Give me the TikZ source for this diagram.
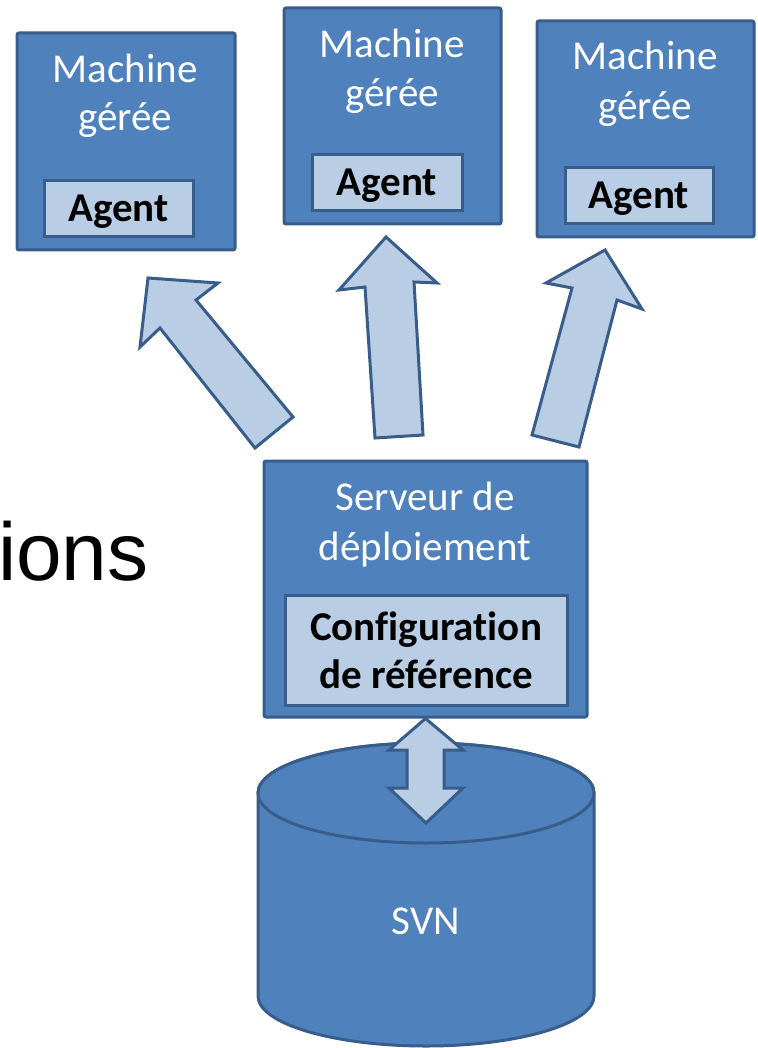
\documentclass[tikz,border=0pt]{standalone}
\usepackage{fontspec}
\setmainfont{Carlito}[Ligatures=CommonOff]
\newfontfamily\arialfont{Liberation Sans}
\definecolor{boxfill}{HTML}{4F81BD}
\definecolor{boxline}{HTML}{385D8A}
\definecolor{innerfill}{HTML}{B9CDE5}
\begin{document}
\begin{tikzpicture}[x=1pt,y=-1pt,
  outerbox/.style={draw=boxline, fill=boxfill, line width=3pt, rounded corners=2pt, inner sep=0pt},
  innerbox/.style={draw=boxline, fill=innerfill, line width=3pt, inner sep=0pt},
  wtext/.style={text=white, font=\fontsize{41}{49}\selectfont, anchor=base, inner sep=0pt},
  btext/.style={text=black, font=\bfseries\fontsize{41}{49}\selectfont, anchor=base, inner sep=0pt},
  blockarrow/.style={draw=boxline, fill=innerfill, line width=3pt, line join=miter},
  cyl/.style={draw=boxline, fill=boxfill, line width=3pt}]
\useasboundingbox (0,0) rectangle (757,1048);

% cut-off title text
\node[anchor=base west, inner sep=0pt, font=\arialfont\fontsize{82}{82}\selectfont] (title) at (-2,580) {ions};

% managed machines
\node[outerbox, minimum width=218pt, minimum height=217pt] (m1) at (126,141.5) {};
\node[innerbox, minimum width=149pt, minimum height=56pt] (a1) at (118.5,209) {};
\node[wtext] (m1t1) at (125,83) {Machine};
\node[wtext] (m1t2) at (125,131) {gérée};
\node[btext] (a1t) at (118.5,222) {Agent};

\node[outerbox, minimum width=217pt, minimum height=216pt] (m2) at (392.5,116) {};
\node[innerbox, minimum width=150pt, minimum height=56pt] (a2) at (387,183) {};
\node[wtext] (m2t1) at (392,58) {Machine};
\node[wtext] (m2t2) at (392,107) {gérée};
\node[btext] (a2t) at (387,196) {Agent};

\node[outerbox, minimum width=217pt, minimum height=216pt] (m3) at (645.5,129) {};
\node[innerbox, minimum width=148pt, minimum height=56pt] (a3) at (639,196) {};
\node[wtext] (m3t1) at (645,70) {Machine};
\node[wtext] (m3t2) at (645,120) {gérée};
\node[btext] (a3t) at (639,209) {Agent};

% deployment server
\node[outerbox, minimum width=323pt, minimum height=256pt] (srv) at (425.5,589) {};
\node[innerbox, minimum width=282pt, minimum height=110pt] (cfg) at (426,650) {};
\node[wtext] (srvt1) at (425,510) {Serveur de};
\node[wtext] (srvt2) at (425,560) {déploiement};
\node[btext] (cfgt1) at (426,640) {Configuration};
\node[btext] (cfgt2) at (426,688) {de référence};

% block arrows to machines
\draw[blockarrow] (148,278) -- (218,283) -- (196,300) -- (293,417) -- (255,448) -- (160,328) -- (140,347) -- cycle;
\draw[blockarrow] (386,237) -- (437,283) -- (414,282) -- (423,435) -- (375,438) -- (365,287) -- (339,290) -- cycle;
\draw[blockarrow] (605,250) -- (642,309) -- (617,300) -- (579,447) -- (532,435) -- (572,288) -- (546,283) -- cycle;

% SVN cylinder
\draw[cyl] (258,793) -- (258,996) arc[start angle=180, end angle=0, x radius=168, y radius=50]
  -- (594,793) arc[start angle=0, end angle=-180, x radius=168, y radius=50] -- cycle;
\draw[cyl] (426,793) ellipse[x radius=168, y radius=50];
\node[text=white, font=\fontsize{41}{49}\selectfont, anchor=base, inner sep=0pt] (svn) at (426,934) {SVN};

% double arrow server <-> SVN
\draw[blockarrow] (srv.south) -- (463,750) -- (444,750) -- (444,788) -- (463,788) -- (426,823)
  -- (389,788) -- (407,788) -- (407,750) -- (389,750) -- cycle;
\end{tikzpicture}
\end{document}
